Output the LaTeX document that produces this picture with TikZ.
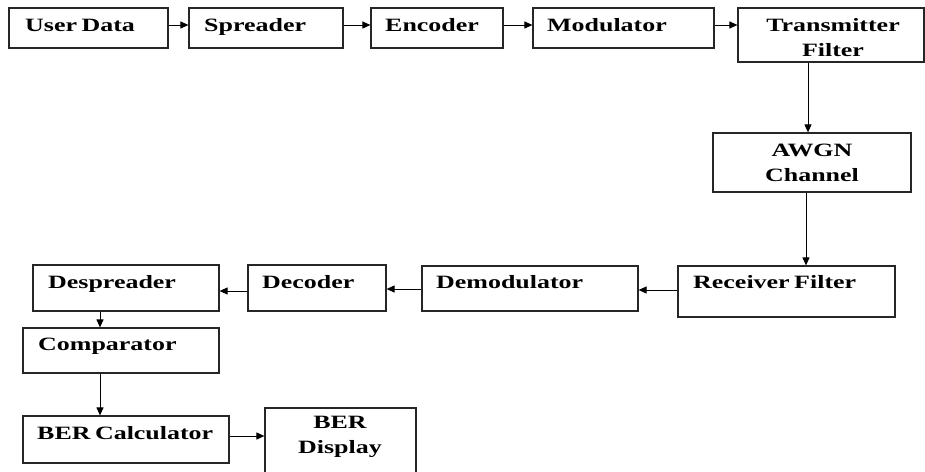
\documentclass[tikz,border=0pt]{standalone}
\usepackage{fontspec}
\setmainfont[FakeStretch=1.38,WordSpace=0.7]{Liberation Serif}
\usetikzlibrary{arrows.meta}
\begin{document}
\begin{tikzpicture}[x=1pt,y=-1pt,
  box/.style={draw=black!85,line width=1.2pt,rectangle,inner sep=0pt},
  txt/.style={anchor=base west,inner sep=0pt,font=\fontsize{18.8}{25}\selectfont\bfseries},
  ctxt/.style={anchor=center,inner sep=0pt,align=center,font=\fontsize{18.8}{25}\selectfont\bfseries},
  arr/.style={draw=black,line width=1pt,-{Triangle[length=8pt,width=7pt]}}]
\useasboundingbox (0,0) rectangle (925,471);
\clip (0,0) rectangle (925,471);
% boxes
\newcommand{\mybox}[5]{\node[box,minimum width={#4-#2},minimum height={#5-#3}] (#1) at ({(#2+#4)/2},{(#3+#5)/2}) {};}
\mybox{ud}{9}{8}{168}{48}
\mybox{sp}{189}{8}{343}{48}
\mybox{en}{371}{8}{503}{48}
\mybox{mo}{533}{8}{714}{48}
\mybox{tf}{738}{8}{924}{62}
\mybox{aw}{713}{133}{911}{192}
\mybox{rf}{678}{266}{895}{317}
\mybox{dm}{422}{266}{638}{311}
\mybox{dc}{248}{265}{386}{311}
\mybox{ds}{33}{265}{219}{311}
\mybox{cp}{23}{328}{219}{373}
\mybox{bc}{23}{416}{229}{463}
\mybox{bd}{265}{408}{416}{476}
% texts
\node[txt] (tud) at (25,31) {User Data};
\node[txt] (tsp) at (204,31) {Spreader};
\node[txt] (ten) at (385,31) {Encoder};
\node[txt] (tmo) at (547,31) {Modulator};
\node[ctxt] (ttf) at (833,37.5) {Transmitter\\Filter};
\node[ctxt] (taw) at (812,162.5) {AWGN\\Channel};
\node[txt] (trf) at (693,288) {Receiver Filter};
\node[txt] (tdm) at (436,288) {Demodulator};
\node[txt] (tdc) at (262,288) {Decoder};
\node[txt] (tds) at (48,288) {Despreader};
\node[txt] (tcp) at (38,350) {Comparator};
\node[txt] (tbc) at (37,439) {BER Calculator};
\node[ctxt] (tbd) at (340,437) {BER\\Display};
% arrows
\draw[arr] (ud.east |- 0,25) -- (sp.west |- 0,25);
\draw[arr] (sp.east |- 0,25) -- (en.west |- 0,25);
\draw[arr] (en.east |- 0,25) -- (mo.west |- 0,25);
\draw[arr] (mo.east |- 0,25) -- (tf.west |- 0,25);
\draw[arr] (tf.south -| 808,0) -- (aw.north -| 808,0);
\draw[arr] (aw.south -| 806,0) -- (rf.north -| 806,0);
\draw[arr] (rf.west |- 0,290) -- (dm.east |- 0,290);
\draw[arr] (dm.west |- 0,289) -- (dc.east |- 0,289);
\draw[arr] (dc.west |- 0,291) -- (ds.east |- 0,291);
\draw[arr] (ds.south -| 100,0) -- (cp.north -| 100,0);
\draw[arr] (cp.south -| 100,0) -- (bc.north -| 100,0);
\draw[arr] (bc.east |- 0,436) -- (bd.west |- 0,436);
\end{tikzpicture}
\end{document}
